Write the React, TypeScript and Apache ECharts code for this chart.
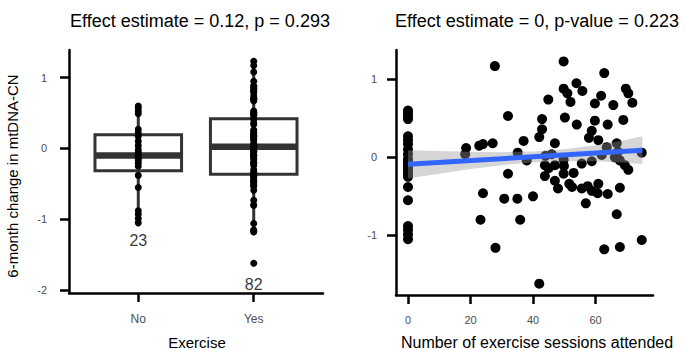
import React, { useEffect, useRef } from "react";
import * as echarts from "echarts";

// ---- data ----
const groups = ["No", "Yes"];
// 6-month change in mtDNA-CN, non-exercisers (0 sessions)
const noChange = [
  -1.05, -0.99, -0.93, -0.88, -0.55, -0.38, -0.25, -0.21, -0.17, -0.14, -0.12, -0.1,
  -0.06, -0.02, 0.04, 0.1, 0.17, 0.22, 0.27, 0.49, 0.53, 0.57, 0.6,
];
// exercisers: sessions attended and change
const yesSessions = [
  18.6, 18.3, 22.8, 24, 27.1, 27.8, 32, 32, 24, 30.8, 35, 23.2, 35.9, 28, 35.1, 37, 38, 40, 42, 42,
  42.9, 42.9, 44.9, 43.8, 43.8, 46, 47, 47, 47, 48, 49.8, 49.8, 50.2, 49.9, 49.8, 49.8, 51, 52, 53.9, 54,
  55.8, 51.6, 53, 55.6, 55.6, 57.5, 56.9, 58.8, 58.8, 57.9, 58.8, 59.8, 59.8, 61.8, 62.8, 60.9, 60.9, 60.7, 63.9, 63.9,
  63.6, 62.8, 65.7, 66.8, 67.2, 66.2, 67.8, 67.8, 66.8, 67.8, 68.9, 69.7, 70.5, 71.8, 69.4, 70.5, 74.8, 74.8, 52.5, 45,
  44, 62,
];
const yesChange = [
  0.12, 0.04, 0.15, 0.17, 0.18, 1.17, 0.53, -0.21, -0.46, -0.53, -0.53, -0.8, -0.8, -1.16, 0.06, 0.21, -0.04, -0.5, -1.62, 0.26,
  0.36, 0.49, 0.74, -0.1, -0.24, 0.04, 0.18, -0.1, -0.3, -0.4, 1.23, 0.88, 0.51, -0.11, -0.21, -0.03, 0.82, 0.71, 0.95, 0.42,
  0.85, -0.34, -0.2, -0.08, -0.4, -0.37, -0.59, -0.43, -0.05, 0.25, 0.34, 0.47, 0.69, 0.79, 1.08, 0.22, -0.34, -0.46, 0.42, -0.47,
  0.13, -1.18, 0.67, 0.18, 0.07, 0.0, -0.04, -0.39, -0.73, -1.15, 0.48, 0.88, 0.82, 0.7, -0.1, -0.16, 0.06, -1.06, -0.38, -0.14,
  0.02, 0.03,
];
// fitted line and its confidence band
const fitX = [0, 75];
const fitY = [-0.09, 0.09];
const bandX = [0, 10, 20, 30, 40, 50, 60, 70, 75];
const bandLow = [-0.27, -0.21, -0.15, -0.1, -0.065, -0.05, -0.05, -0.07, -0.09];
const bandHigh = [0.09, 0.08, 0.07, 0.065, 0.075, 0.105, 0.155, 0.225, 0.27];
// tick values
const leftXTicks = [1, 2];
const leftYTicks = [-2, -1, 0, 1];
const rightXTicks = [0, 20, 40, 60];
const rightYTicks = [-1, 0, 1];
// count label positions (y)
const countLabelY = [-1.3, -1.92];

const FONT = "'Liberation Sans', Arial, Helvetica, sans-serif";
const TICK_COLOR = "#4d4d4d";

function q7(s: number[], p: number) {
  const h = (s.length - 1) * p;
  const lo = Math.floor(h);
  const hiV = lo + 1 < s.length ? s[lo + 1] : s[lo];
  return s[lo] + (h - lo) * (hiV - s[lo]);
}
function boxStats(vals: number[]) {
  const s = [...vals].sort((a, b) => a - b);
  const q1 = q7(s, 0.25);
  const med = q7(s, 0.5);
  const q3 = q7(s, 0.75);
  const iqr = q3 - q1;
  const lo = s.find((v) => v >= q1 - 1.5 * iqr) as number;
  const hi = [...s].reverse().find((v) => v <= q3 + 1.5 * iqr) as number;
  return [lo, q1, med, q3, hi];
}

function axisStyle(fontSize: number, margin: number, ticks: number[], formatter?: (v: number) => string) {
  return {
    axisLine: { show: true, onZero: false, lineStyle: { color: "#000", width: 2.5 } },
    axisTick: { show: true, length: 9, customValues: ticks, lineStyle: { color: "#000", width: 2.5 } },
    axisLabel: {
      show: true,
      customValues: ticks,
      color: TICK_COLOR,
      fontSize,
      fontFamily: FONT,
      margin,
      formatter: formatter ? (v: number) => formatter(v) : (v: number) => String(v),
    },
    splitLine: { show: false },
  };
}

export default function App() {
  const ref = useRef<HTMLDivElement>(null);
  useEffect(() => {
    if (!ref.current) return;
    const chart = echarts.init(ref.current, undefined, { renderer: "svg" });
    const counts = [noChange.length, yesChange.length];
    const boxData = [
      [1, ...boxStats(noChange)],
      [2, ...boxStats(yesChange)],
    ];
    const option: any = {
      animation: false,
      backgroundColor: "#fff",
      grid: [
        { left: 69, top: 50, width: 254, height: 243 },
        { left: 396, top: 50, width: 257, height: 245 },
      ],
      xAxis: [
        {
          type: "value",
          gridIndex: 0,
          min: 0.4,
          max: 2.6,
          ...axisStyle(12, 20, leftXTicks, (v) => groups[Math.round(v) - 1] ?? ""),
        },
        {
          type: "value",
          gridIndex: 1,
          min: -3.84,
          max: 78.4,
          ...axisStyle(11, 19, rightXTicks),
        },
      ],
      yAxis: [
        {
          type: "value",
          gridIndex: 0,
          min: -2.04,
          max: 1.39,
          ...axisStyle(11, 22, leftYTicks),
        },
        {
          type: "value",
          gridIndex: 1,
          min: -1.765,
          max: 1.376,
          ...axisStyle(11, 19, rightYTicks),
        },
      ],
      series: [
        {
          type: "custom",
          xAxisIndex: 0,
          yAxisIndex: 0,
          z: 2,
          encode: { x: 0, y: [1, 2, 3, 4, 5] },
          data: boxData,
          renderItem: (params: any, api: any) => {
            const x = api.value(0);
            const pMin = api.coord([x, api.value(1)]);
            const pQ1 = api.coord([x, api.value(2)]);
            const pMed = api.coord([x, api.value(3)]);
            const pQ3 = api.coord([x, api.value(4)]);
            const pMax = api.coord([x, api.value(5)]);
            const half = api.size([0.75, 0])[0] / 2;
            const stroke = "#333";
            return {
              type: "group",
              children: [
                { type: "line", shape: { x1: pMin[0], y1: pMin[1], x2: pQ1[0], y2: pQ1[1] }, style: { stroke, lineWidth: 3 } },
                { type: "line", shape: { x1: pQ3[0], y1: pQ3[1], x2: pMax[0], y2: pMax[1] }, style: { stroke, lineWidth: 3 } },
                {
                  type: "rect",
                  shape: { x: pQ1[0] - half, y: pQ3[1], width: 2 * half, height: pQ1[1] - pQ3[1] },
                  style: { fill: "#fff", stroke, lineWidth: 3 },
                },
                {
                  type: "line",
                  shape: { x1: pMed[0] - half, y1: pMed[1], x2: pMed[0] + half, y2: pMed[1] },
                  style: { stroke, lineWidth: 6.5 },
                },
              ],
            };
          },
        },
        {
          type: "scatter",
          xAxisIndex: 0,
          yAxisIndex: 0,
          z: 3,
          symbolSize: 7,
          itemStyle: { color: "#000", opacity: 1 },
          data: [...noChange.map((v) => [1, v]), ...yesChange.map((v) => [2, v])],
        },
        {
          type: "scatter",
          xAxisIndex: 0,
          yAxisIndex: 0,
          z: 4,
          symbolSize: 1,
          itemStyle: { color: "rgba(0,0,0,0)" },
          label: {
            show: true,
            position: "inside",
            color: "#000",
            fontSize: 16,
            fontFamily: FONT,
            formatter: (p: any) => String(counts[p.dataIndex]),
          },
          data: countLabelY.map((y, i) => [i + 1, y]),
        },
        {
          type: "scatter",
          xAxisIndex: 1,
          yAxisIndex: 1,
          z: 1,
          symbolSize: 10,
          itemStyle: { color: "#000", opacity: 1 },
          data: [...noChange.map((v) => [0, v]), ...yesSessions.map((x, i) => [x, yesChange[i]])],
        },
        {
          type: "custom",
          xAxisIndex: 1,
          yAxisIndex: 1,
          z: 2,
          encode: { x: 0, y: [1, 2] },
          data: bandX.map((x, i) => [x, bandLow[i], bandHigh[i]]),
          renderItem: (params: any, api: any) => {
            if (params.dataIndex !== 0) return null;
            const upper = bandX.map((x, i) => api.coord([x, bandHigh[i]]));
            const lower = bandX.map((x, i) => api.coord([x, bandLow[i]])).reverse();
            return {
              type: "polygon",
              shape: { points: [...upper, ...lower] },
              style: { fill: "rgba(153,153,153,0.4)", stroke: "none" },
            };
          },
        },
        {
          type: "line",
          xAxisIndex: 1,
          yAxisIndex: 1,
          z: 5,
          symbol: "none",
          lineStyle: { color: "#3366FF", width: 5 },
          data: fitX.map((x, i) => [x, fitY[i]]),
        },
      ],
      graphic: [
        {
          type: "text",
          x: 200,
          y: 21,
          style: { text: "Effect estimate = 0.12, p = 0.293", font: `18px ${FONT}`, fill: "#000", align: "center", verticalAlign: "middle" },
        },
        {
          type: "text",
          x: 537,
          y: 21,
          style: { text: "Effect estimate = 0, p-value = 0.223", font: `18px ${FONT}`, fill: "#000", align: "center", verticalAlign: "middle" },
        },
        {
          type: "text",
          x: 197,
          y: 342,
          style: { text: "Exercise", font: `15px ${FONT}`, fill: "#000", align: "center", verticalAlign: "middle" },
        },
        {
          type: "text",
          x: 537,
          y: 342,
          style: { text: "Number of exercise sessions attended", font: `16px ${FONT}`, fill: "#000", align: "center", verticalAlign: "middle" },
        },
        {
          type: "text",
          x: 12,
          y: 176,
          rotation: Math.PI / 2,
          style: { text: "6-month change in mtDNA-CN", font: `15px ${FONT}`, fill: "#000", align: "center", verticalAlign: "middle" },
        },
      ],
    };
    chart.setOption(option);
    return () => chart.dispose();
  }, []);
  return <div ref={ref} style={{ position: "fixed", left: 0, top: 0, width: 686, height: 349, background: "#fff" }} />;
}
